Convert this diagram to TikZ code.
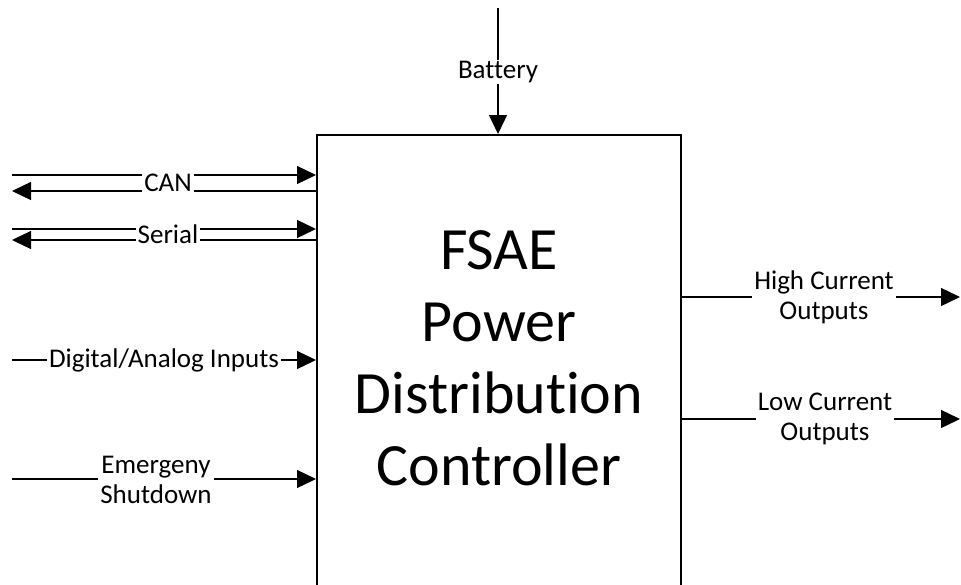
\documentclass[tikz,border=0pt]{standalone}
\usepackage{fontspec}
\setmainfont{Carlito}[Ligatures={NoCommon}]
\usetikzlibrary{arrows.meta}
\tikzset{
  wire/.style={line width=1.3pt, line cap=butt},
  arr/.style={wire, -{Triangle[length=19pt,width=18pt]}},
  lbl/.style={font=\fontsize{27}{30}\selectfont, fill=white, inner xsep=2pt, inner ysep=1pt, align=center},
  box/.style={draw, line width=2pt, minimum width=364pt, minimum height=470pt, inner sep=0pt},
  title/.style={font=\fontsize{60}{72}\selectfont, align=center, inner sep=0pt}
}
\begin{document}
\begin{tikzpicture}[x=1pt,y=-1pt]
\useasboundingbox (0,0) rectangle (961,584);
\clip (0,0) rectangle (961,584);
\node[box] (pdc) at (499,370) {};
\node[title, anchor=base] (ttl) at (499,485) {FSAE\\Power\\Distribution\\Controller};
% battery
\coordinate (bat) at (498,8);
\draw[arr] (bat) -- (bat |- pdc.north);
\node[lbl] (batl) at (498,72) {Battery};
% CAN
\coordinate (can1) at (12,175);
\coordinate (can2) at (12,191);
\draw[arr] (can1) -- (can1 -| pdc.west);
\draw[arr] (can2 -| pdc.west) -- (can2);
\node[lbl, text height=18pt, text depth=1pt] (canl) at (168,183) {CAN};
% Serial
\coordinate (ser1) at (12,229);
\coordinate (ser2) at (12,240);
\draw[arr] (ser1) -- (ser1 -| pdc.west);
\draw[arr] (ser2 -| pdc.west) -- (ser2);
\node[lbl, text height=18pt, text depth=1pt] (serl) at (168,235) {Serial};
% Digital/Analog
\coordinate (dig) at (12,360);
\draw[arr] (dig) -- (dig -| pdc.west);
\node[lbl] (digl) at (164,360) {Digital/Analog Inputs};
% Emergency
\coordinate (em) at (12,479);
\draw[arr] (em) -- (em -| pdc.west);
\node[lbl] (eml) at (156,480) {Emergeny\\Shutdown};
% High current
\coordinate (hc) at (960,297);
\draw[arr] (hc -| pdc.east) -- (hc);
\node[lbl] (hcl) at (824,297) {High Current\\Outputs};
% Low current
\coordinate (lc) at (960,419);
\draw[arr] (lc -| pdc.east) -- (lc);
\node[lbl] (lcl) at (825,419) {Low Current\\Outputs};
\end{tikzpicture}
\end{document}
